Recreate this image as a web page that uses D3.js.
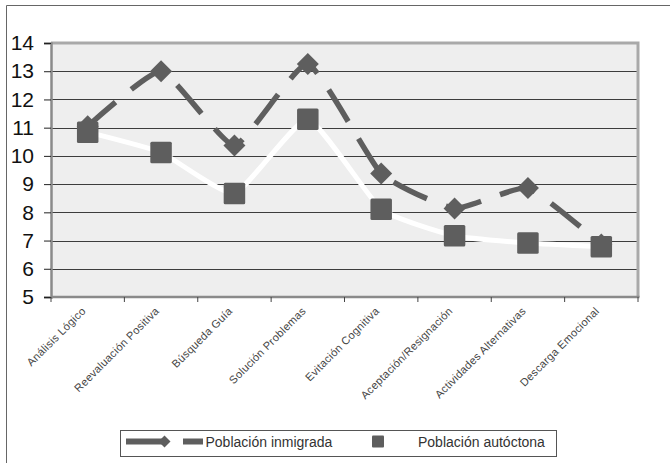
<!DOCTYPE html>
<html>
<head>
<meta charset="utf-8">
<script src="https://cdn.jsdelivr.net/npm/d3@7"></script>
<style>
  html, body { margin: 0; padding: 0; background: #fff; }
  svg { display: block; }
  text { font-family: "Liberation Sans", Arial, sans-serif; }
</style>
</head>
<body>
<div id="chart"></div>
<script>
// Coping strategy scores by population group
const categories = [
  "Análisis Lógico",
  "Reevaluación Positiva",
  "Búsqueda Guía",
  "Solución Problemas",
  "Evitación Cognitiva",
  "Aceptación/Resignación",
  "Actividades Alternativas",
  "Descarga Emocional"
];
const inmigrada = [11.05, 13.0, 10.37, 13.26, 9.38, 8.14, 8.86, 6.86];
const autoctona = [10.84, 10.12, 8.67, 11.3, 8.11, 7.17, 6.91, 6.78];
const yTicks = [5, 6, 7, 8, 9, 10, 11, 12, 13, 14];
const seriesNames = ["Población inmigrada", "Población autóctona"];

const W = 670, H = 463;
const plot = { left: 51, right: 638, top: 43, bottom: 297 };
const markColor = "#5e5e5e";

const svg = d3.select("#chart").append("svg")
  .attr("width", W).attr("height", H);

svg.append("rect").attr("width", W).attr("height", H).attr("fill", "#fff");

// outer frame (top and left edges)
svg.append("line").attr("x1", 6.5).attr("x2", W).attr("y1", 5.5).attr("y2", 5.5)
  .attr("stroke", "#666").attr("stroke-width", 1);
svg.append("line").attr("x1", 6.5).attr("x2", 6.5).attr("y1", 5.5).attr("y2", H)
  .attr("stroke", "#666").attr("stroke-width", 1);

const x = d3.scaleBand().domain(categories).range([plot.left, plot.right]);
const y = d3.scaleLinear().domain([5, 14]).range([plot.bottom, plot.top]);
const cx = d => x(d) + x.bandwidth() / 2;

// plot background
svg.append("rect")
  .attr("x", plot.left).attr("y", plot.top)
  .attr("width", plot.right - plot.left).attr("height", plot.bottom - plot.top)
  .attr("fill", "#eeeeee");

// horizontal gridlines
svg.append("g").selectAll("line")
  .data(yTicks.filter(v => v > 5 && v < 14))
  .join("line")
  .attr("x1", plot.left).attr("x2", plot.right)
  .attr("y1", d => Math.round(y(d)) + 0.5).attr("y2", d => Math.round(y(d)) + 0.5)
  .attr("stroke", "#3c3c3c").attr("stroke-width", 1);

// top and right plot border
svg.append("path")
  .attr("d", `M${plot.left},${plot.top} H${plot.right} V${plot.bottom}`)
  .attr("fill", "none").attr("stroke", "#a9a9a9").attr("stroke-width", 3);

// y axis
const yAxis = svg.append("g")
  .attr("transform", `translate(${plot.left},0)`)
  .call(d3.axisLeft(y).tickValues(yTicks).tickSize(7).tickPadding(10).tickFormat(d3.format("d")));
yAxis.select(".domain").attr("stroke", "#8a8a8a").attr("stroke-width", 2.5);
yAxis.selectAll(".tick line").attr("stroke", "#222");
yAxis.selectAll(".tick text")
  .attr("font-size", 21).attr("fill", "#111")
  .attr("font-family", "Liberation Sans, Arial, sans-serif");

// x axis with ticks at category boundaries
const xAxisG = svg.append("g").attr("transform", `translate(0,${plot.bottom})`);
xAxisG.append("line")
  .attr("x1", plot.left).attr("x2", plot.right + 1.5)
  .attr("y1", 0).attr("y2", 0)
  .attr("stroke", "#8a8a8a").attr("stroke-width", 2.5);
const boundaries = categories.map(c => x(c)).concat([plot.right]);
xAxisG.selectAll("line.tk").data(boundaries).join("line")
  .attr("class", "tk")
  .attr("x1", d => d).attr("x2", d => d).attr("y1", 0).attr("y2", 5)
  .attr("stroke", "#444").attr("stroke-width", 1);
xAxisG.selectAll("text").data(categories).join("text")
  .attr("transform", d => `translate(${cx(d) - 4},${12}) rotate(-45)`)
  .attr("text-anchor", "end")
  .attr("dy", "0.35em")
  .attr("font-size", 11)
  .attr("letter-spacing", "0.3px")
  .attr("fill", "#444")
  .text(d => d);

// smoothed series lines
const line = d3.line()
  .x((d, i) => cx(categories[i]))
  .y(d => y(d))
  .curve(d3.curveCardinal.tension(0.55));

// Población inmigrada: dashed line with diamond markers
svg.append("path")
  .datum(inmigrada)
  .attr("d", line)
  .attr("fill", "none")
  .attr("stroke", markColor)
  .attr("stroke-width", 5.5)
  .attr("stroke-dasharray", "37,20");

const diamond = r => `M0,${-r} L${r},0 L0,${r} L${-r},0 Z`;
svg.append("g").selectAll("path")
  .data(inmigrada)
  .join("path")
  .attr("transform", (d, i) => `translate(${cx(categories[i])},${y(d)})`)
  .attr("d", diamond(11))
  .attr("fill", markColor);

// Población autóctona: white line with square markers
svg.append("path")
  .datum(autoctona)
  .attr("d", line)
  .attr("fill", "none")
  .attr("stroke", "#fff")
  .attr("stroke-width", 5);

const sq = 21.5;
svg.append("g").selectAll("rect")
  .data(autoctona)
  .join("rect")
  .attr("x", (d, i) => cx(categories[i]) - sq / 2)
  .attr("y", d => y(d) - sq / 2)
  .attr("width", sq).attr("height", sq)
  .attr("rx", 1.5)
  .attr("fill", markColor);

// legend
const legend = svg.append("g");
legend.append("rect")
  .attr("x", 120.5).attr("y", 430.5).attr("width", 436).attr("height", 26)
  .attr("fill", "#fff").attr("stroke", "#555").attr("stroke-width", 1);
const ly = 441.5;
legend.append("line")
  .attr("x1", 126).attr("x2", 203).attr("y1", ly).attr("y2", ly)
  .attr("stroke", markColor).attr("stroke-width", 6)
  .attr("stroke-dasharray", "37,20");
legend.append("path")
  .attr("transform", `translate(164.5,${ly})`)
  .attr("d", diamond(6))
  .attr("fill", markColor);
legend.append("text")
  .attr("x", 205.5).attr("y", ly).attr("dy", "0.36em")
  .attr("font-size", 14).attr("fill", "#333")
  .text(seriesNames[0]);
legend.append("rect")
  .attr("x", 372).attr("y", ly - 6).attr("width", 12).attr("height", 12)
  .attr("rx", 1).attr("fill", markColor);
legend.append("text")
  .attr("x", 418).attr("y", ly).attr("dy", "0.36em")
  .attr("font-size", 14).attr("fill", "#333")
  .text(seriesNames[1]);
</script>
</body>
</html>
